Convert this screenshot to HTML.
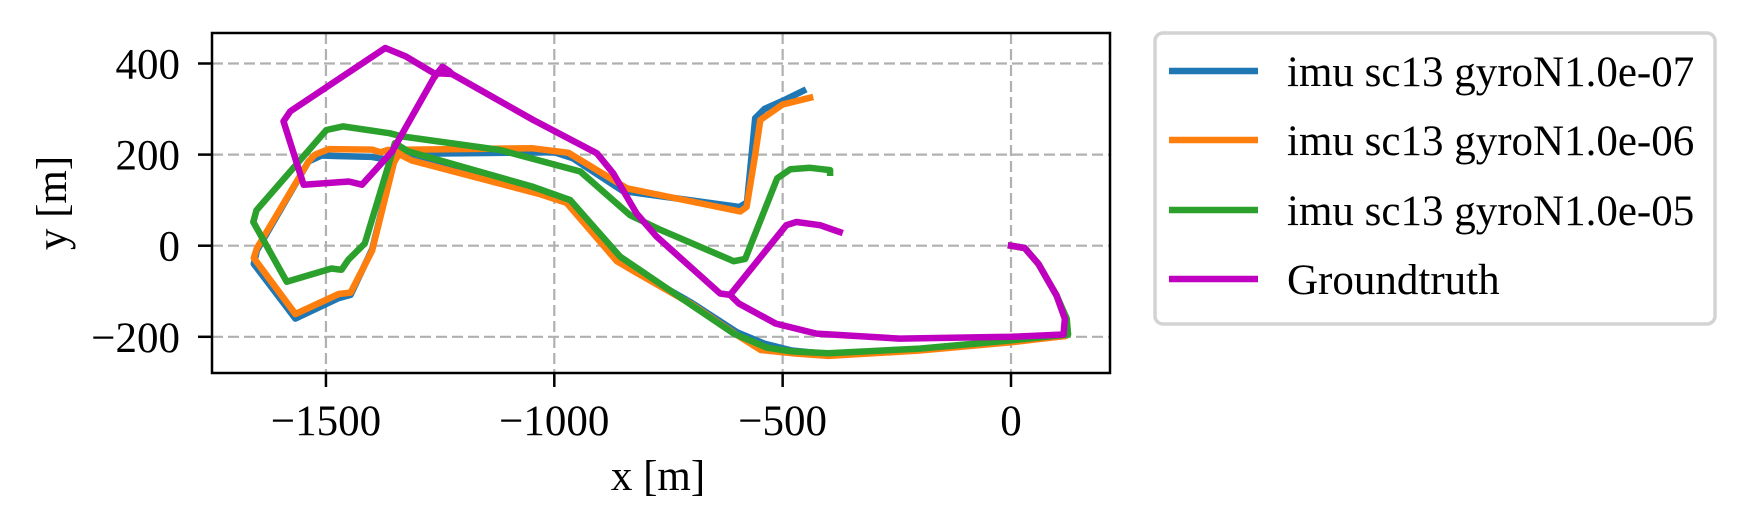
<!DOCTYPE html>
<html><head><meta charset="utf-8"><style>
html,body{margin:0;padding:0;background:#fff;}
svg{display:block;font-family:"Liberation Serif",serif;}
</style></head><body>
<svg id="chart" width="1744" height="529" viewBox="0 0 1744 529" xmlns="http://www.w3.org/2000/svg">
<rect x="0" y="0" width="1744" height="529" fill="#fff"/>
<g id="grid"></g>
<g id="series"></g>
<rect x="212" y="33" width="898" height="340" fill="none" stroke="#000" stroke-width="2.5"/>
<g id="ticks"></g>
<text x="658" y="490" font-size="43" text-anchor="middle">x [m]</text>
<text transform="translate(66,203) rotate(-90)" font-size="43" text-anchor="middle">y [m]</text>
<g id="legend">
<rect x="1155" y="33" width="560" height="291" rx="8" fill="#fff" stroke="#d3d3d3" stroke-width="3.5"/>
</g>
</svg>
<script>
const xTicks = [-1500, -1000, -500, 0];
const yTicks = [-200, 0, 200, 400];
const seriesNames = ["imu sc13 gyroN1.0e-07", "imu sc13 gyroN1.0e-06", "imu sc13 gyroN1.0e-05", "Groundtruth"];
const seriesColors = ["#1f77b4", "#ff7f0e", "#2ca02c", "#c000c0"];
const blueX = [0,30,60,100,118,120,0,-200,-400,-480,-540,-600,-700,-826,-863,-973,-1034,-1312,-1340,-1351,-1399,-1446,-1472,-1567,-1658,-1651,-1538,-1510,-1480,-1400,-1370,-1350,-1300,-1000,-960,-850,-595,-578,-560,-540,-500,-455];
const blueY = [0,-5,-40,-110,-160,-198,-210,-228,-238,-230,-215,-190,-125,-53,-31,97,117,190,204,186,-8,-108,-115,-160,-40,-10,185,198,197,195,190,200,202,205,192,120,85,95,280,300,318,340];
const orangeX = [0,30,60,100,118,120,0,-200,-400,-480,-548,-606,-700,-826,-863,-973,-1034,-1312,-1340,-1351,-1399,-1446,-1472,-1567,-1658,-1651,-1538,-1524,-1494,-1399,-1380,-1365,-1312,-1049,-969,-841,-593,-579,-560,-549,-500,-440];
const orangeY = [0,-5,-40,-110,-160,-198,-212,-230,-242,-236,-229,-192,-128,-56,-34,94,114,187,201,183,-11,-103,-106,-150,-27,-5,185,200,212,211,205,210,211,214,204,126,75,85,200,276,310,325];
const greenX = [0,30,60,100,122,125,0,-200,-400,-480,-534,-607,-700,-856,-965,-1049,-1320,-1349,-1364,-1415,-1451,-1466,-1488,-1586,-1659,-1652,-1499,-1463,-1361,-1334,-1119,-943,-834,-768,-607,-582,-512,-483,-440,-396,-396];
const greenY = [0,-5,-40,-110,-160,-195,-208,-226,-236,-232,-224,-193,-130,-24,100,130,207,225,174,5,-31,-53,-50,-79,52,78,254,262,247,240,210,163,67,35,-34,-29,148,168,171,166,160];
const gtX = [-375,-418,-470,-492,-615,-637,-776,-820,-871,-907,-1046,-1224,-1230,-1245,-1264,-1355,-1421,-1450,-1549,-1593,-1578,-1370,-1326,-1264,-1224,-1046,-907,-871,-820,-776,-637,-615,-596,-515,-426,-244,0,115,118,100,60,30,0];
const gtY = [30,45,52,45,-108,-105,20,71,159,203,276,377,383,393,368,207,134,141,134,273,295,434,416,379,377,276,203,159,71,20,-105,-108,-127,-171,-193,-204,-200,-195,-160,-110,-40,-5,0];

const NS = "http://www.w3.org/2000/svg";
const X0 = 212, X1 = 1110, Y0 = 33, Y1 = 373;
function sx(v){ return 1011 + v * 0.4567; }
function sy(v){ return 245.7 - v * 0.4555; }
function mk(tag, attrs, parent){
  const e = document.createElementNS(NS, tag);
  for (const k in attrs) e.setAttribute(k, attrs[k]);
  parent.appendChild(e); return e;
}
const grid = document.getElementById("grid");
const ticks = document.getElementById("ticks");
xTicks.forEach(t => {
  const g = mk("line", {x1:sx(t), x2:sx(t), y1:Y0, y2:Y1, stroke:"#b0b0b0", "stroke-width":2.2, "stroke-dasharray":"11 5"}, grid);
  
  
  const tk = mk("line", {x1:sx(t), x2:sx(t), y1:Y1, y2:Y1+14, stroke:"#000", "stroke-width":2.5}, ticks);
  
  
  const lb = mk("text", {x:sx(t), y:435, "font-size":43, "text-anchor":"middle"}, ticks);
  lb.textContent = t < 0 ? "\u2212" + Math.abs(t) : String(t);
  
  
});
yTicks.forEach(t => {
  const g = mk("line", {x1:X0, x2:X1, y1:sy(t), y2:sy(t), stroke:"#b0b0b0", "stroke-width":2.2, "stroke-dasharray":"11 5"}, grid);
  
  
  const tk = mk("line", {x1:X0-14, x2:X0, y1:sy(t), y2:sy(t), stroke:"#000", "stroke-width":2.5}, ticks);
  
  
  const lb = mk("text", {x:180, y:sy(t)+15, "font-size":43, "text-anchor":"end"}, ticks);
  lb.textContent = t < 0 ? "\u2212" + Math.abs(t) : String(t);
  
  
});
const seriesG = document.getElementById("series");
const allX = [blueX, orangeX, greenX, gtX];
const allY = [blueY, orangeY, greenY, gtY];
const seriesKeys = ["blue-series-line","orange-series-line","green-series-line","groundtruth-line"];
const clip = mk("clipPath", {id:"clipA"}, document.getElementById("chart"));
mk("rect", {x:X0, y:Y0, width:X1-X0, height:Y1-Y0}, clip);
for (let i = 0; i < 4; i++) {
  const pts = allX[i].map((x, j) => sx(x).toFixed(1) + "," + sy(allY[i][j]).toFixed(1)).join(" ");
  const pl = mk("polyline", {points:pts, fill:"none", stroke:seriesColors[i], "stroke-width":6.5, "stroke-linejoin":"round", "stroke-linecap":"square", "clip-path":"url(#clipA)"}, seriesG);
  
  
}
const leg = document.getElementById("legend");
const legY = [71, 140, 210, 279];
for (let i = 0; i < 4; i++) {
  const ln = mk("line", {x1:1169, x2:1258, y1:legY[i], y2:legY[i], stroke:seriesColors[i], "stroke-width":6.5}, leg);
  
  
  const tx = mk("text", {x:1287, y:legY[i]+15, "font-size":43}, leg);
  tx.textContent = seriesNames[i];
  
  
}
</script>
</body></html>
